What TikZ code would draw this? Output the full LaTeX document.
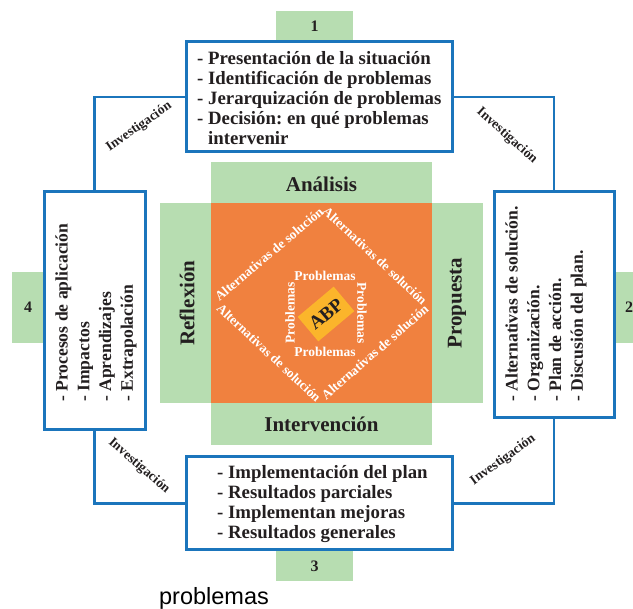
\documentclass[tikz,border=0pt]{standalone}
\usepackage{fontspec}
\setmainfont{Liberation Serif}
\newfontfamily\sansf{Liberation Sans}
\definecolor{ink}{HTML}{231F20}
\definecolor{bblue}{HTML}{1B75BC}
\definecolor{lgreen}{HTML}{B7DDB1}
\definecolor{orng}{HTML}{F0813F}
\definecolor{yell}{HTML}{FBB52B}
\frenchspacing
\begin{document}
\begin{tikzpicture}[x=1pt,y=-1pt,
  bluebox/.style={draw=bblue, line width=3pt, fill=white, inner sep=0pt},
  link/.style={draw=bblue, line width=2.5pt},
  gbox/.style={fill=lgreen, draw=none},
  boxtxt/.style={font=\fontsize{18.8}{20}\selectfont\bfseries, text=ink, inner sep=0pt, align=left},
  sidetxt/.style={font=\fontsize{17.6}{21.7}\selectfont\bfseries, text=ink, inner sep=0pt, align=left},
  numtxt/.style={font=\fontsize{16}{16}\selectfont\bfseries, text=ink, inner sep=0pt},
  phase/.style={font=\fontsize{21}{21}\selectfont\bfseries, text=ink, inner sep=0pt},
  inv/.style={font=\fontsize{13.5}{13.5}\selectfont\bfseries, text=ink, inner sep=0pt},
  alt/.style={font=\fontsize{13.3}{13.3}\selectfont\bfseries, text=white, inner sep=0pt},
  prob/.style={font=\fontsize{13.5}{13.5}\selectfont\bfseries, text=white, inner sep=0pt}]
\useasboundingbox (0,0) rectangle (633,609);
\clip (0,0) rectangle (633,609);
\fill[white] (0,0) rectangle (633,609);

% centre block
\fill[gbox] (211,162) rectangle (432,203);
\fill[gbox] (160,203) rectangle (211,403);
\fill[gbox] (432,203) rectangle (483,403);
\fill[gbox] (211,403) rectangle (432,445);
\fill[orng] (211,203) rectangle (432,403);

\node[phase] (ana) at (321.5,184) {Análisis};
\node[phase] (int) at (321.5,424) {Intervención};
\node[phase, rotate=90] (ref) at (187,303) {Reflexión};
\node[phase, rotate=90] (pro) at (457,303) {Propuesta};

% inner diamond
\node[fill=yell, rotate=40, minimum width=47pt, minimum height=32pt, inner sep=0pt,
      font=\fontsize{19}{19}\selectfont\bfseries, text=ink] (abp) at (326,314) {ABP};
\node[prob] (p1) at (325,276) {Problemas};
\node[prob] (p2) at (325,352) {Problemas};
\node[prob, rotate=90] (p3) at (290,313) {Problemas};
\node[prob, rotate=-90] (p4) at (362,313) {Problemas};

\node[alt, rotate=40] (a1) at (269,254) {Alternativas de solución};
\node[alt, rotate=-43] (a2) at (375,256) {Alternativas de solución};
\node[alt, rotate=-43] (a3) at (269,353) {Alternativas de solución};
\node[alt, rotate=41] (a4) at (375,352) {Alternativas de solución};

% number tabs
\fill[gbox] (276,11) rectangle (353,42);
\fill[gbox] (12,272) rectangle (44,343);
\fill[gbox] (614,272) rectangle (646,343);
\fill[gbox] (276,549) rectangle (353,581);
\node[numtxt] (n1) at (314.5,26) {1};
\node[numtxt] (n4) at (28,307) {4};
\node[numtxt] (n2) at (629,307) {2};
\node[numtxt] (n3) at (314.5,566) {3};

% boxes
\node[bluebox, minimum width=266pt, minimum height=110pt] (b1) at (319,97) {};
\node[bluebox, minimum width=101pt, minimum height=238pt] (b4) at (94.5,311) {};
\node[bluebox, minimum width=120pt, minimum height=226pt] (b2) at (554,305) {};
\node[bluebox, minimum width=266pt, minimum height=93pt] (b3) at (319,503.5) {};

% connectors
\draw[link] (b1.west) -| (b4.north);
\draw[link] (b1.east) -| (b2.north);
\draw[link] (b4.south) |- (b3.west);
\draw[link] (b2.south) |- (b3.east);

% box texts
\node[boxtxt, anchor=west] (t1) at (197,98) {- Presentación de la situación\\- Identificación de problemas\\- Jerarquización de problemas\\- Decisión: en qué problemas\\\phantom{- }intervenir};
\node[boxtxt, anchor=west] (t3) at (217,504) {- Implementación del plan\\- Resultados parciales\\- Implementan mejoras\\- Resultados generales};
\node[sidetxt, rotate=90, anchor=west] (t4) at (96,402) {- Procesos de aplicación\\- Impactos\\- Aprendizajes\\- Extrapolación};
\node[sidetxt, rotate=90, anchor=west] (t2) at (546,402) {- Alternativas de solución.\\- Organización.\\- Plan de acción.\\- Discusión del plan.};

% Investigación labels
\node[inv, rotate=35] (i1) at (139,127) {Investigación};
\node[inv, rotate=-42] (i2) at (507,136) {Investigación};
\node[inv, rotate=-41] (i3) at (139,466) {Investigación};
\node[inv, rotate=36] (i4) at (503,460) {Investigación};

\node[font=\sansf\fontsize{23.5}{23.5}\selectfont, text=black, inner sep=0pt] (cap) at (214,598) {problemas};
\end{tikzpicture}
\end{document}
